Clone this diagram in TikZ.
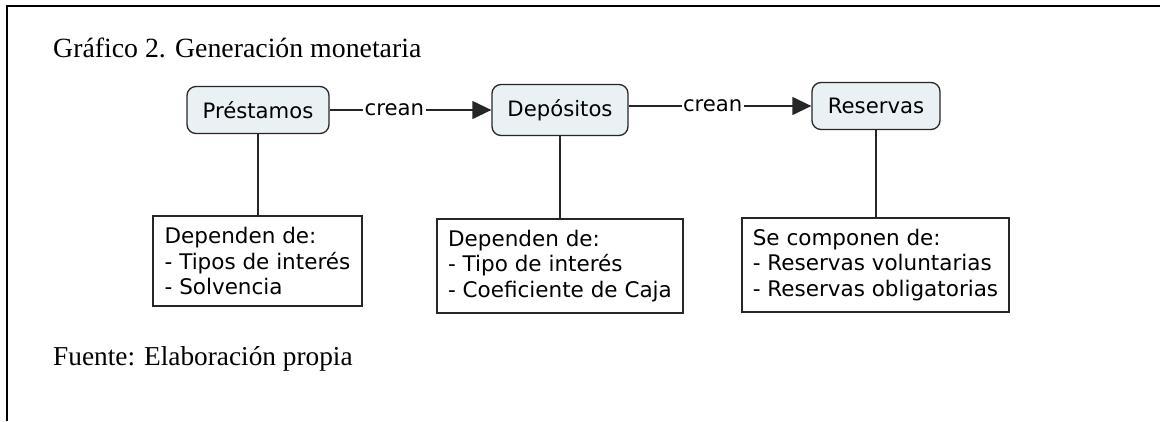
\documentclass[tikz,border=0pt]{standalone}
\usepackage{fontspec}
\setmainfont{Liberation Serif}
\newfontfamily\vfont{DejaVu Sans}
\usetikzlibrary{arrows.meta}
\definecolor{conceptfill}{HTML}{E9F1F5}
\tikzset{
  concept/.style={draw=black!85, line width=1.3pt, rounded corners=9pt, fill=conceptfill,
    font=\vfont\fontsize{21.2}{24}\selectfont, inner sep=0pt, align=center},
  detail/.style={draw=black!85, line width=1.3pt, fill=white, inner xsep=10pt, inner ysep=0pt,
    font=\vfont\fontsize{21.5}{25.5}\selectfont, align=left},
  link/.style={line width=1.3pt, draw=black!85},
  arrowlink/.style={link, -{Triangle[length=19pt,width=18pt]}},
  linklabel/.style={fill=white, inner sep=1.5pt, font=\vfont\fontsize{21.2}{24}\selectfont},
  caption/.style={anchor=base west, inner sep=0pt}
}
\begin{document}
\begin{tikzpicture}[x=1pt,y=-1pt]
\useasboundingbox (0,0) rectangle (1160,421);
% frame
\draw[line width=2pt] (7,421) -- (7,5.5) -- (1160,5.5);
% captions
\node[caption, font=\fontsize{27.8}{32}\selectfont] (title) at (53,57) {Gráfico 2. Generación monetaria};
\node[caption, font=\fontsize{27.3}{32}\selectfont] (source) at (53,365) {Fuente: Elaboración propia};
% concepts
\node[concept, minimum width=142pt, minimum height=47pt] (pre) at (258,110) {Préstamos};
\node[concept, minimum width=136pt, minimum height=51pt] (dep) at (560,110) {Depósitos};
\node[concept, minimum width=128pt, minimum height=47pt] (res) at (876,106) {Reservas};
% details
\node[detail, minimum width=209pt, minimum height=90pt] (d1) at (257.5,261)
  {Dependen de:\\- Tipos de interés\\- Solvencia};
\node[detail, minimum width=246pt, minimum height=94pt] (d2) at (560,266)
  {Dependen de:\\- Tipo de interés\\- Coeficiente de Caja};
\node[detail, minimum width=267pt, minimum height=94pt] (d3) at (875.5,265)
  {Se componen de:\\- Reservas voluntarias\\- Reservas obligatorias};
% links
\draw[arrowlink] (pre.east) -- node[linklabel, pos=0.4] (l1) {crean} (pre.east -| dep.west);
\draw[arrowlink] (res.west -| dep.east) -- node[linklabel, pos=0.46] (l2) {crean} (res.west);
\draw[link] (pre.south) -- (pre.south |- d1.north);
\draw[link] (dep.south) -- (dep.south |- d2.north);
\draw[link] (res.south) -- (res.south |- d3.north);
\end{tikzpicture}
\end{document}
